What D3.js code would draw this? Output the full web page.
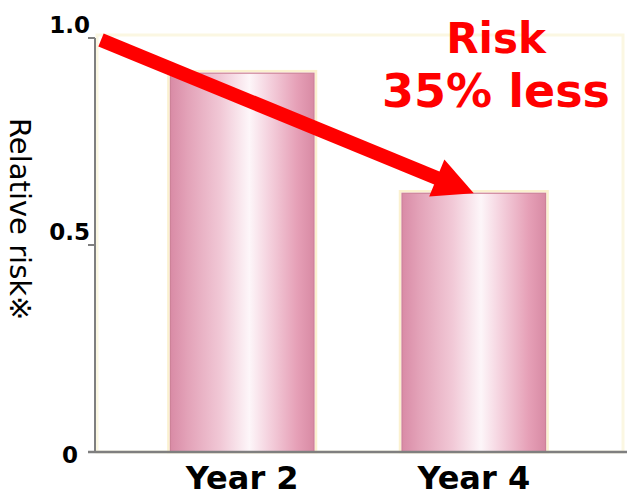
<!DOCTYPE html>
<html>
<head>
<meta charset="utf-8">
<script src="https://cdn.jsdelivr.net/npm/d3@7"></script>
<style>
  html, body { margin: 0; padding: 0; background: #fff; }
  svg { display: block; }
</style>
</head>
<body>
<svg id="chart" width="627" height="498"></svg>
<script>
const categories = ["Year 2", "Year 4"];
const values = [0.915, 0.625];
const tickValues = [0, 0.5, 1.0];
const tickLabels = ["0", "0.5", "1.0"];
const yTitle = "Relative risk※";
const noteLines = ["Risk", "35% less"];

const svg = d3.select("#chart");
const W = 627, H = 498;
const x0 = 95, yBottom = 452, yTop = 38;

const y = d3.scaleLinear().domain([0, 1]).range([yBottom, yTop]);
const x = d3.scaleBand().domain(categories).range([94, 622]).paddingInner(0.38).paddingOuter(0.33);

// gradient
const defs = svg.append("defs");
const g = defs.append("linearGradient").attr("id", "barGrad").attr("x1", "0").attr("x2", "1").attr("y1", "0").attr("y2", "0");
[[0, "#d98ba6"], [0.12, "#e3a2b8"], [0.35, "#f1c8d6"], [0.55, "#fdf6f9"], [0.68, "#f5d3df"], [0.88, "#e6a0b7"], [1, "#d88aa4"]]
  .forEach(([o, c]) => g.append("stop").attr("offset", o).attr("stop-color", c));

// plot area frame (pale cream)
svg.append("rect")
  .attr("x", 97).attr("y", 35).attr("width", 526).attr("height", yBottom - 35)
  .attr("fill", "#fff").attr("stroke", "#fbf7e2").attr("stroke-width", 3);

// bars
const bars = svg.append("g");
bars.selectAll("rect.glow").data(values).join("rect")
  .attr("class", "glow")
  .attr("x", (d, i) => x(categories[i]) - 2)
  .attr("y", d => y(d) - 2)
  .attr("width", x.bandwidth() + 4)
  .attr("height", d => yBottom - y(d) + 2)
  .attr("fill", "none").attr("stroke", "#fbf1cf").attr("stroke-width", 2.5);
bars.selectAll("rect.bar").data(values).join("rect")
  .attr("class", "bar")
  .attr("x", (d, i) => x(categories[i]))
  .attr("y", d => y(d))
  .attr("width", x.bandwidth())
  .attr("height", d => yBottom - y(d))
  .attr("fill", "url(#barGrad)")
  .attr("stroke", "#cd8299").attr("stroke-width", 1.2);

// axes
svg.append("line").attr("x1", x0).attr("x2", x0).attr("y1", yTop).attr("y2", yBottom)
  .attr("stroke", "#7f7f7f").attr("stroke-width", 2);
svg.append("line").attr("x1", 88).attr("x2", W).attr("y1", yBottom).attr("y2", yBottom)
  .attr("stroke", "#7f7f7f").attr("stroke-width", 2.5);
svg.selectAll("line.tick").data(tickValues).join("line")
  .attr("class", "tick")
  .attr("x1", 88).attr("x2", x0).attr("y1", d => y(d)).attr("y2", d => y(d))
  .attr("stroke", "#7f7f7f").attr("stroke-width", 2);
svg.selectAll("text.tl").data(tickValues).join("text")
  .attr("class", "tl")
  .attr("x", d => d === 0 ? 78 : 90)
  .attr("y", d => d === 0 ? y(d) + 11 : y(d) - 5)
  .attr("text-anchor", "end")
  .attr("font-family", "DejaVu Sans, sans-serif").attr("font-weight", "bold")
  .attr("font-size", 23).attr("fill", "#000")
  .text((d, i) => tickLabels[i]);

// x labels
svg.selectAll("text.xl").data(categories).join("text")
  .attr("class", "xl")
  .attr("x", d => x(d) + x.bandwidth() / 2)
  .attr("y", 489)
  .attr("text-anchor", "middle")
  .attr("font-family", "DejaVu Sans, sans-serif").attr("font-weight", "bold")
  .attr("font-size", 32).attr("fill", "#000")
  .text(d => d);

// y title
svg.append("text")
  .attr("transform", "translate(10,118) rotate(90)")
  .attr("font-family", "DejaVu Sans, sans-serif")
  .attr("font-size", 29).attr("fill", "#000")
  .text(yTitle);

// arrow
const sx = x0 + 6, sy = y(1) + 2;
const tx = x(categories[1]) + x.bandwidth() / 2, ty = y(values[1]);
const dx = tx - sx, dy = ty - sy, len = Math.hypot(dx, dy);
const ux = dx / len, uy = dy / len, px = -uy, py = ux;
const headLen = 40, headHalf = 20;
const bx = tx - ux * headLen, by = ty - uy * headLen;
svg.append("line").attr("x1", sx).attr("y1", sy).attr("x2", bx + ux * 2).attr("y2", by + uy * 2)
  .attr("stroke", "#ff0000").attr("stroke-width", 14);
svg.append("path")
  .attr("d", `M${tx},${ty}L${bx + px * headHalf},${by + py * headHalf}L${bx - px * headHalf},${by - py * headHalf}Z`)
  .attr("fill", "#ff0000");

// annotation
svg.selectAll("text.note").data(noteLines).join("text")
  .attr("class", "note")
  .attr("x", 496)
  .attr("y", (d, i) => i === 0 ? 53 : 107)
  .attr("text-anchor", "middle")
  .attr("font-family", "DejaVu Sans, sans-serif").attr("font-weight", "bold")
  .attr("font-size", (d, i) => i === 0 ? 42 : 46)
  .attr("fill", "#ff0000")
  .text(d => d);
</script>
</body>
</html>
